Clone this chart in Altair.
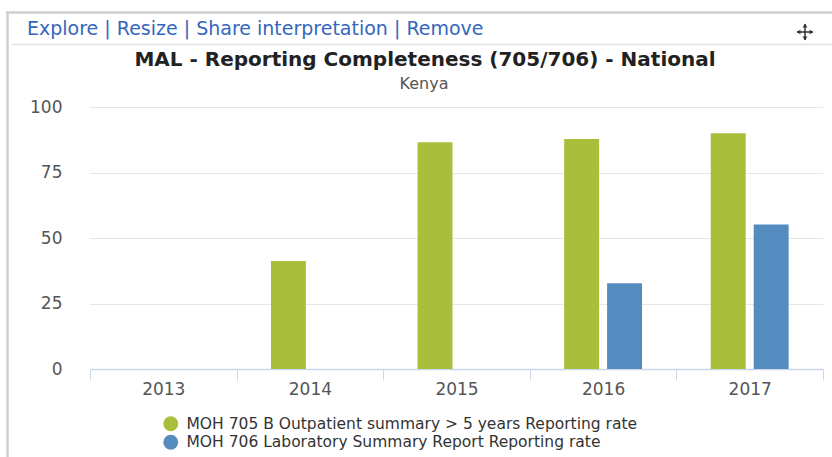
import altair as alt
import pandas as pd

years = ["2013", "2014", "2015", "2016", "2017"]
series = ["MOH 705 B Outpatient summary > 5 years Reporting rate",
          "MOH 706 Laboratory Summary Report Reporting rate"]
moh705 = [None, 41.2, 86.5, 87.8, 90.0]
moh706 = [None, None, None, 32.7, 55.2]
colors = ["#a9be3b", "#558cc0"]
y_ticks = [0, 25, 50, 75, 100]

title_text = "MAL - Reporting Completeness (705/706) - National"
subtitle_text = "Kenya"
header_text = "Explore | Resize | Share interpretation | Remove"

rows = []
for s, vals in zip(series, [moh705, moh706]):
    for yr, v in zip(years, vals):
        if v is not None:
            rows.append({"year": yr, "series": s, "value": v})
df = pd.DataFrame(rows)

W, H = 733, 262
PL, PT = 90, 107
FONT = "DejaVu Sans"

bars = alt.Chart(df).mark_bar().encode(
    x=alt.X("year:N",
            scale=alt.Scale(domain=years, paddingInner=0, paddingOuter=0),
            axis=alt.Axis(title=None, labelAngle=0, tickBand="extent", tickSize=11,
                          tickColor="#ccd6eb", domainColor="#ccd6eb", domainWidth=1.5,
                          labelPadding=1, labelFontSize=17, labelColor="#555555",
                          labelFont=FONT, grid=False)),
    xOffset=alt.XOffset("series:N",
                        scale=alt.Scale(domain=series, paddingInner=0.186, paddingOuter=0.8)),
    y=alt.Y("value:Q",
            scale=alt.Scale(domain=[0, 100], nice=False),
            axis=alt.Axis(title=None, values=y_ticks, grid=True, gridColor="#e6e6e6",
                          domain=False, ticks=False, tickSize=0, labelPadding=28,
                          labelFontSize=17, labelColor="#555555", labelFont=FONT)),
    color=alt.Color("series:N",
                    scale=alt.Scale(domain=series, range=colors),
                    legend=alt.Legend(title=None, orient="none", legendX=73, legendY=309,
                                      symbolType="circle", symbolSize=220,
                                      labelFont=FONT, labelFontSize=15.5, labelColor="#333333",
                                      labelOffset=8, rowPadding=1.5, padding=0, labelLimit=700,
                                      symbolStrokeWidth=0)),
)

one = alt.Data(values=[{}])


def txt(s, x, y, size, color, weight="normal", align="left"):
    return alt.Chart(one).mark_text(text=s, font=FONT, fontSize=size, color=color,
                                    fontWeight=weight, align=align, baseline="middle").encode(
        x=alt.value(x - PL), y=alt.value(y - PT))


def hrule(x1, x2, y, color, w):
    return alt.Chart(one).mark_rule(color=color, strokeWidth=w).encode(
        x=alt.value(x1 - PL), x2=alt.value(x2 - PL), y=alt.value(y - PT))


def vrule(x, y1, y2, color, w):
    return alt.Chart(one).mark_rule(color=color, strokeWidth=w).encode(
        x=alt.value(x - PL), y=alt.value(y1 - PT), y2=alt.value(y2 - PT))


def tri(shape, x, y):
    return alt.Chart(one).mark_point(shape=shape, filled=True, size=22, color="#333333",
                                     opacity=1).encode(
        x=alt.value(x - PL), y=alt.value(y - PT))


decor = [
    hrule(6, 832, 12.5, "#cfcfcf", 2.5),
    vrule(7.5, 12, 457, "#cfcfcf", 2.5),
    hrule(12, 832, 44.5, "#e2e2e2", 1.5),
    txt(header_text, 27, 29, 19, "#3566bd"),
    txt(title_text, 425, 60, 20, "#222222", weight="bold", align="center"),
    txt(subtitle_text, 424, 84, 16, "#555555", align="center"),
    hrule(797, 813, 32, "#333333", 1.5),
    vrule(805, 24, 40, "#333333", 1.5),
    tri("triangle-up", 805, 25.5),
    tri("triangle-down", 805, 38.5),
    tri("triangle-left", 798.5, 32),
    tri("triangle-right", 811.5, 32),
]

chart = alt.layer(bars, *decor).properties(
    width=W, height=H,
    padding={"left": PL, "top": PT, "right": 832 - PL - W, "bottom": 457 - PT - H},
    autosize="none",
    background="white",
).configure_view(stroke=None)

chart.save("out.html", embed_options={"renderer": "svg", "actions": False})
